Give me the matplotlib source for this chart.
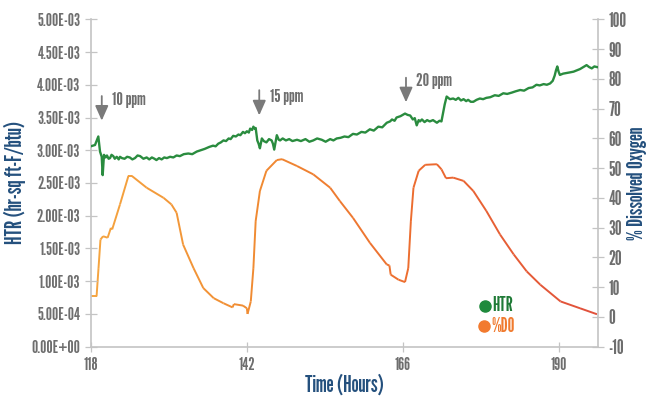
import numpy as np
import matplotlib
matplotlib.use("Agg")
import matplotlib.pyplot as plt
from matplotlib.collections import LineCollection
from matplotlib.colors import LinearSegmentedColormap
from matplotlib import font_manager

# ---- data ----
htr_hours = [118.0, 118.66, 119.17, 119.43, 119.69, 119.84, 120.04, 120.3, 120.5, 120.75, 120.97,
             121.2, 121.47, 121.7, 122.0, 122.3, 122.5, 122.8, 123.2, 123.6, 124.0, 124.4,
             124.8, 125.2, 125.6, 126.1, 126.6, 127.0, 127.4, 127.8, 128.1, 128.5, 128.9,
             129.3, 129.7, 130.2, 130.7, 131.2, 131.7, 132.3, 133.0, 133.6, 134.3, 134.9,
             135.5, 136.2, 136.8, 137.2, 137.6, 138.0, 138.4, 138.8, 139.2, 139.5, 139.9,
             140.3, 140.7, 141.0, 141.4, 141.7, 142.0, 142.3, 142.5, 142.8, 143.0, 143.2,
             143.35, 143.6, 143.8, 144.0, 144.3, 144.6, 145.0, 145.4, 145.8, 146.0, 146.2,
             146.4, 146.6, 146.9, 147.1, 147.5, 148.0, 148.5, 149.0, 149.7, 150.3, 151.0,
             151.6, 152.2, 152.8, 153.5, 154.1, 154.8, 155.3, 155.8, 156.4, 157.0, 157.6,
             158.3, 158.9, 159.6, 160.2, 160.9, 161.5, 162.2, 162.8, 163.5, 164.0, 164.3,
             164.7, 165.0, 165.6, 166.3, 166.7, 167.1, 167.5, 167.8, 168.1, 168.4, 168.6,
             168.9, 169.3, 169.7, 170.1, 170.6, 171.2, 171.6, 171.9, 172.2, 172.4, 172.7,
             173.2, 173.7, 174.1, 174.5, 174.9, 175.3, 175.7, 176.0, 176.4, 176.8, 177.3,
             177.8, 178.3, 178.8, 179.4, 180.1, 180.7, 181.4, 182.0, 182.7, 183.3, 184.0,
             184.6, 185.3, 185.9, 186.5, 187.0, 187.6, 188.1, 188.6, 189.0, 189.3, 189.5,
             189.7, 189.9, 190.1, 190.6, 191.2, 191.7, 192.2, 192.7, 193.2, 193.7, 194.2,
             194.6, 195.0, 195.4, 195.8]
htr_values = [3.06, 3.08, 3.21, 2.98, 2.90, 2.62, 2.93, 2.89, 2.92, 2.87, 2.88,
              2.93, 2.91, 2.87, 2.90, 2.86, 2.90, 2.88, 2.87, 2.90, 2.89, 2.86,
              2.88, 2.92, 2.91, 2.87, 2.89, 2.86, 2.89, 2.87, 2.85, 2.88, 2.86,
              2.89, 2.88, 2.90, 2.89, 2.92, 2.91, 2.94, 2.95, 2.94, 2.98, 3.00,
              3.02, 3.05, 3.07, 3.06, 3.10, 3.12, 3.15, 3.14, 3.18, 3.17, 3.22,
              3.21, 3.24, 3.23, 3.28, 3.26, 3.29, 3.27, 3.33, 3.31, 3.36, 3.33,
              3.34, 3.15, 3.10, 3.03, 3.18, 3.14, 3.12, 3.17, 3.15, 3.10, 3.01,
              3.12, 3.23, 3.16, 3.15, 3.18, 3.15, 3.17, 3.14, 3.16, 3.14, 3.17,
              3.13, 3.15, 3.18, 3.16, 3.13, 3.17, 3.15, 3.18, 3.19, 3.21, 3.20,
              3.25, 3.24, 3.28, 3.27, 3.32, 3.30, 3.36, 3.35, 3.42, 3.44, 3.47,
              3.45, 3.50, 3.52, 3.56, 3.54, 3.53, 3.47, 3.49, 3.38, 3.46, 3.44,
              3.47, 3.43, 3.46, 3.44, 3.46, 3.42, 3.45, 3.44, 3.60, 3.70, 3.82,
              3.78, 3.79, 3.77, 3.80, 3.76, 3.78, 3.75, 3.77, 3.74, 3.74, 3.77,
              3.79, 3.78, 3.80, 3.81, 3.84, 3.83, 3.87, 3.86, 3.88, 3.90, 3.92,
              3.91, 3.95, 3.96, 4.00, 3.99, 4.01, 4.00, 4.02, 4.06, 4.14, 4.22,
              4.28, 4.20, 4.15, 4.17, 4.18, 4.19, 4.20, 4.22, 4.24, 4.27, 4.30,
              4.27, 4.25, 4.28, 4.27]

do_hours = [118.0, 118.9, 119.2, 119.5, 119.9, 120.6, 121.1, 121.3, 122.5, 123.8, 124.3,
            126.6, 129.2, 130.4, 131.2, 132.2, 133.8, 135.3, 136.9, 138.4, 139.8, 140.0,
            141.4, 142.0, 142.1, 142.6, 143.0, 143.35, 144.0, 145.0, 146.6, 147.4, 149.7,
            152.2, 154.8, 156.3, 158.3, 160.9, 163.5, 163.9, 164.1, 165.3, 166.3, 166.8,
            167.2, 167.6, 168.4, 169.4, 171.2, 171.9, 172.6, 173.7, 175.3, 176.8, 178.8,
            180.9, 183.0, 185.0, 187.1, 190.2, 193.2, 195.8]
do_values = [6.9, 6.9, 16.4, 26.0, 27.1, 26.6, 29.9, 29.4, 37.8, 47.4, 47.4,
             43.4, 40.0, 37.8, 35.0, 24.3, 16.4, 9.7, 6.3, 4.6, 3.2, 4.3,
             3.8, 2.9, 1.0, 5.2, 16.4, 32.2, 42.3, 49.1, 52.7, 53.0, 50.7,
             47.9, 43.4, 38.9, 33.3, 24.9, 17.6, 17.3, 14.2, 12.5, 11.7, 16.4,
             32.2, 43.4, 49.1, 51.1, 51.3, 49.6, 46.6, 46.8, 45.7, 42.3, 35.6,
             27.7, 21.0, 15.3, 10.8, 5.2, 2.9, 0.9]

x_ticks = [118, 142, 166, 190]
htr_ticks = [i * 0.5e-3 for i in range(11)]
do_ticks = list(range(-10, 101, 10))

annotations = [("10 ppm", 119.7), ("15 ppm", 143.9), ("20 ppm", 166.45)]
ann_top = [3.87e-3, 3.96e-3, 4.15e-3]
ann_bottom = [3.41e-3, 3.49e-3, 3.69e-3]
ann_text_y = [3.76e-3, 3.82e-3, 4.05e-3]

# ---- font: pick a narrow, heavy family ----
fl = font_manager.fontManager.ttflist
all_names = {f.name for f in fl}
bold_names = {f.name for f in fl
              if (isinstance(f.weight, int) and f.weight >= 600)
              or f.weight in ("bold", "semibold", "heavy", "black")}
FAM, SCALE, WEIGHT = "DejaVu Sans", 0.85, "bold"
picked = False
for cand, sc in [("League Gothic", 1.2), ("Oswald", 0.95), ("Fjalla One", 0.92), ("Antonio", 1.05)]:
    if cand in all_names:
        FAM, SCALE, WEIGHT = cand, sc, "bold" if cand in bold_names else "normal"
        picked = True
        break
if not picked:
    for cand in ["Barlow Condensed", "Saira Condensed", "Roboto Condensed",
                 "IBM Plex Sans Condensed", "Archivo Narrow"]:
        if cand in bold_names:
            FAM, SCALE, WEIGHT = cand, 1.08, "bold"
            break
font = dict(family=FAM, fontweight=WEIGHT)

TICK_GRAY = "#6e6e6e"
AXIS_GRAY = "#c4c4c4"
LABEL_BLUE = "#24507d"
GREEN = "#2a8c3f"

fig = plt.figure(figsize=(6.47, 4.0), dpi=100)
ax = fig.add_axes([0.1402, 0.1333, 0.7845, 0.8185])
ax2 = ax.twinx()

ax.set_xlim(118, 196)
ax.set_ylim(0, 5e-3)
ax2.set_ylim(-10, 100)

ax.plot(htr_hours, np.array(htr_values) * 1e-3, color=GREEN, lw=1.7, zorder=3)

xs = np.array(do_hours)
ys = np.array(do_values)
pts = np.column_stack([xs, ys]).reshape(-1, 1, 2)
segs = np.concatenate([pts[:-1], pts[1:]], axis=1)
cmap = LinearSegmentedColormap.from_list("o", ["#f5a540", "#f08a32", "#ec6a30", "#e0503c"])
lc = LineCollection(segs, cmap=cmap, norm=plt.Normalize(118, 196), linewidths=1.4)
lc.set_array((xs[:-1] + xs[1:]) / 2)
ax2.add_collection(lc)

for (txt, hx), yt, yb, ytx in zip(annotations, ann_top, ann_bottom, ann_text_y):
    ax.annotate("", xy=(hx, yb), xytext=(hx, yt),
                arrowprops=dict(arrowstyle="-|>,head_width=0.4,head_length=0.9",
                                color="#7a7a7a", lw=1.3), zorder=4)
    ax.text(hx + 1.6, ytx, txt, color=TICK_GRAY, fontsize=11 * SCALE,
            va="center", ha="left", **font)

for a in (ax, ax2):
    for s in a.spines.values():
        s.set_color(AXIS_GRAY)
        s.set_linewidth(1.2)
    a.spines["top"].set_visible(False)
ax.spines["right"].set_visible(False)
ax2.spines["left"].set_visible(False)
ax2.spines["bottom"].set_visible(False)

ax.set_xticks(x_ticks)
ax.set_xticklabels([str(t) for t in x_ticks])
ax.set_yticks(htr_ticks)
ax.set_yticklabels([f"{v:.2E}" for v in htr_ticks])
ax2.set_yticks(do_ticks)
ax2.set_yticklabels([str(v) for v in do_ticks])

ax.tick_params(axis="both", direction="inout", length=9, width=0.9, color=AXIS_GRAY,
               labelcolor=TICK_GRAY, labelsize=10.5 * SCALE, pad=3)
ax.tick_params(axis="x", length=7, pad=4)
ax2.tick_params(axis="y", direction="inout", length=9, width=0.9, color=AXIS_GRAY,
                labelcolor=TICK_GRAY, labelsize=11.5 * SCALE, pad=3)
for lab in ax.get_xticklabels() + ax.get_yticklabels() + ax2.get_yticklabels():
    lab.set_fontfamily(FAM)
    lab.set_fontweight(WEIGHT)

ax.set_ylabel("HTR (hr-sq ft-F/btu)", color=LABEL_BLUE, fontsize=13.5 * SCALE, labelpad=4, **font)
ax2.set_ylabel("% Dissolved Oxygen", color=LABEL_BLUE, fontsize=13 * SCALE, labelpad=0, **font)
ax.set_xlabel("Time (Hours)", color=LABEL_BLUE, fontsize=13.5 * SCALE, labelpad=1, **font)

ax2.plot([178.6], [3.8], "o", color="#1f8a3c", ms=8, zorder=5, clip_on=False)
ax2.text(179.7, 3.8, "HTR", color="#1f7a36", fontsize=11.5 * SCALE, va="center", ha="left", **font)
ax2.plot([178.4], [-3.2], "o", color="#f27a2e", ms=8, zorder=5, clip_on=False)
ax2.text(179.5, -3.2, "%DO", color="#f07a2e", fontsize=11.5 * SCALE, va="center", ha="left", **font)

ax.set_zorder(ax2.get_zorder() + 1)
ax.patch.set_visible(False)

fig.savefig("out.png", dpi=100)
